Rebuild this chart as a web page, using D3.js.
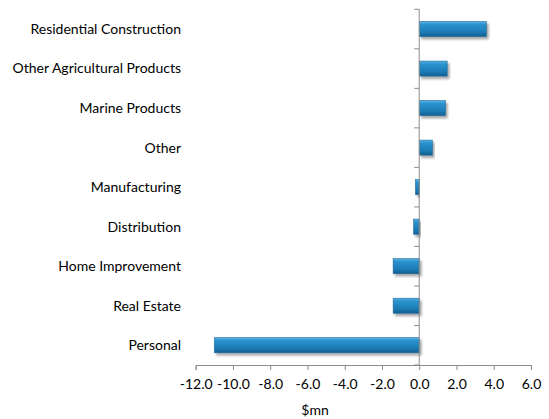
<!DOCTYPE html>
<html>
<head>
<meta charset="utf-8">
<script src="https://cdn.jsdelivr.net/npm/d3@7"></script>
<style>
  body { margin: 0; background: #fff; }
  text { font-family: Lato, "Open Sans", sans-serif; fill: #000; }
</style>
</head>
<body>
<div id="chart"></div>
<script>
// categories, top to bottom
const categories = ['Residential Construction', 'Other Agricultural Products', 'Marine Products', 'Other',
  'Manufacturing', 'Distribution', 'Home Improvement', 'Real Estate', 'Personal'];
const values = [3.6, 1.5, 1.4, 0.7, -0.2, -0.3, -1.4, -1.4, -11.0];
const xTicks = [-12, -10, -8, -6, -4, -2, 0, 2, 4, 6];
const xTitle = '$mn';

const width = 549, height = 419;
const svg = d3.select('#chart').append('svg')
  .attr('width', width)
  .attr('height', height);

const defs = svg.append('defs');
const grad = defs.append('linearGradient')
  .attr('id', 'barGrad')
  .attr('x1', 0).attr('y1', 0).attr('x2', 0).attr('y2', 1);
grad.append('stop').attr('offset', '0%').attr('stop-color', '#5fb6e6');
grad.append('stop').attr('offset', '18%').attr('stop-color', '#2b93cf');
grad.append('stop').attr('offset', '70%').attr('stop-color', '#1b7bb5');
grad.append('stop').attr('offset', '100%').attr('stop-color', '#135f8e');

const shadow = defs.append('filter').attr('id', 'shadow')
  .attr('x', '-10%').attr('y', '-20%').attr('width', '130%').attr('height', '180%');
shadow.append('feDropShadow')
  .attr('dx', 2).attr('dy', 2.5).attr('stdDeviation', 1.3)
  .attr('flood-color', '#000').attr('flood-opacity', 0.35);

const x = d3.scaleLinear().domain([-12, 6]).range([195.7, 531]);
const y = d3.scaleBand().domain(categories).range([9.3, 365]).paddingInner(0.62).paddingOuter(0.31);

// bars
svg.selectAll('rect.bar')
  .data(categories)
  .enter().append('rect')
  .attr('class', 'bar')
  .attr('x', (d, i) => x(Math.min(0, values[i])))
  .attr('width', (d, i) => Math.abs(x(values[i]) - x(0)))
  .attr('y', d => y(d))
  .attr('height', y.bandwidth())
  .attr('fill', 'url(#barGrad)')
  .attr('stroke', '#17669a')
  .attr('stroke-width', 0.6)
  .attr('filter', 'url(#shadow)');

// x axis (hyphen minus like the original)
const fmt = d => d.toFixed(1);
const xAxis = svg.append('g')
  .attr('transform', `translate(0,${365})`)
  .call(d3.axisBottom(x).tickValues(xTicks).tickFormat(fmt).tickSizeOuter(0).tickSize(5));
xAxis.select('.domain').attr('stroke', '#8c8c8c');
xAxis.selectAll('.tick line').attr('stroke', '#8c8c8c');
xAxis.selectAll('.tick text')
  .attr('y', 14)
  .style('font-size', '14px');

// y axis at zero, ticks on band boundaries
const yLine = svg.append('g');
yLine.append('line')
  .attr('x1', x(0)).attr('x2', x(0))
  .attr('y1', 9.3).attr('y2', 365)
  .attr('stroke', '#8c8c8c');
const boundaries = d3.range(categories.length + 1).map(i => 9.3 + i * (365 - 9.3) / categories.length);
yLine.selectAll('line.tk')
  .data(boundaries)
  .enter().append('line')
  .attr('class', 'tk')
  .attr('x1', x(0) - 5).attr('x2', x(0))
  .attr('y1', d => d).attr('y2', d => d)
  .attr('stroke', '#8c8c8c');

// category labels
svg.selectAll('text.cat')
  .data(categories)
  .enter().append('text')
  .attr('class', 'cat')
  .attr('x', 181)
  .attr('y', d => y(d) + y.bandwidth() / 2)
  .attr('dy', '0.35em')
  .attr('text-anchor', 'end')
  .style('font-size', '14px')
  .text(d => d);

// axis title
svg.append('text')
  .attr('x', 315)
  .attr('y', 415)
  .attr('text-anchor', 'middle')
  .style('font-size', '14px')
  .text(xTitle);
</script>
</body>
</html>
